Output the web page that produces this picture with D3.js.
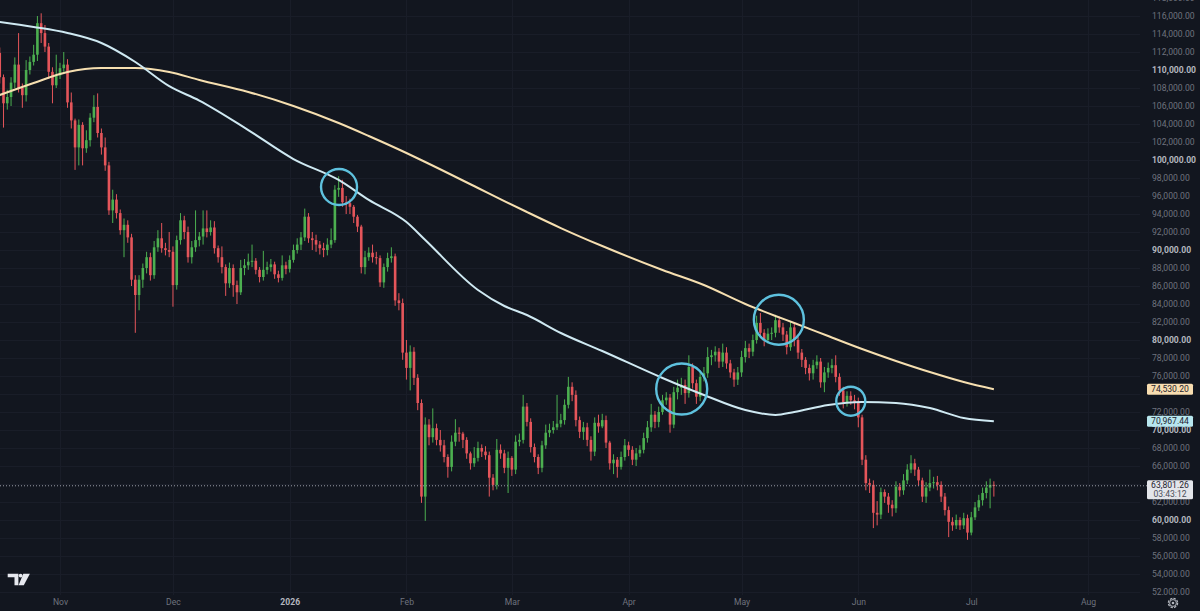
<!DOCTYPE html>
<html>
<head>
<meta charset="utf-8">
<script src="https://cdn.jsdelivr.net/npm/d3@7/dist/d3.min.js"></script>
<style>
  html, body { margin: 0; padding: 0; background: #12161f; }
  svg { display: block; }
</style>
</head>
<body>
<svg id="chart" width="1200" height="611"></svg>
<script>
// Daily candles, prices in thousands of USD. First candle is 16 Oct 2025.
// Open of each candle = close of the one before.
var firstDay = Date.UTC(2025, 9, 16);
var firstOpen = 111.9;

var closes = [
  109.2,106.3,107.0,108.6,110.6,108.0,107.2,110.0,110.9,111.7,
  115.2,114.1,112.6,109.8,108.3,109.4,110.2,110.6,106.4,104.4,
  101.4,103.9,101.3,102.2,104.7,105.9,103.0,101.4,99.4,94.4,
  95.6,94.1,92.2,92.8,91.4,86.7,85.0,86.7,88.0,89.2,
  87.2,90.3,91.3,90.2,90.0,89.8,86.1,91.1,93.3,92.0,
  89.2,90.3,91.1,91.5,92.4,92.0,92.5,90.2,89.2,88.1,
  86.3,88.0,86.1,85.3,88.0,88.3,88.7,88.8,87.8,87.0,
  87.8,88.1,88.4,87.3,86.9,88.3,87.9,88.9,90.0,90.6,
  91.4,93.7,91.3,91.1,90.6,90.2,90.0,90.6,91.1,96.7,
  96.9,95.3,95.2,94.8,93.7,92.6,88.1,89.2,89.7,89.2,
  89.1,86.4,88.1,89.1,89.3,84.4,84.1,78.6,76.9,78.7,
  75.8,73.0,62.6,70.6,69.2,70.2,68.9,68.3,67.0,65.9,
  68.7,69.7,69.6,68.9,67.4,66.3,66.9,68.0,67.6,67.2,
  64.7,63.9,67.8,67.4,65.8,66.9,65.6,68.7,68.9,72.6,
  70.9,68.1,67.0,65.8,68.3,69.7,70.0,70.3,70.7,71.1,
  72.8,74.8,73.9,71.1,69.8,70.3,68.9,67.6,70.8,70.4,
  71.1,68.6,66.3,66.7,65.9,67.0,68.3,67.8,66.7,67.4,
  67.8,69.1,70.3,71.7,70.9,72.0,73.3,73.6,70.6,74.2,
  74.7,75.0,74.1,77.0,75.2,73.7,75.9,76.3,78.1,78.3,
  78.7,77.6,78.6,77.4,76.4,75.6,76.4,78.1,79.1,78.7,
  80.0,81.9,80.8,80.0,80.7,80.8,82.2,81.4,80.6,79.2,
  81.4,80.0,78.6,77.8,76.9,76.3,77.2,77.6,75.3,76.4,
  76.9,77.2,75.9,74.4,73.1,73.8,73.3,73.1,71.4,66.7,
  64.1,63.9,60.8,60.6,63.1,62.6,61.7,61.3,63.7,63.3,
  64.4,65.6,66.3,65.6,64.4,62.6,63.6,64.1,64.2,63.9,
  62.6,61.1,59.8,59.4,60.0,59.4,60.2,58.6,60.3,61.4,
  62.2,63.0,63.6,63.9,63.80126
];

var highs = [
  112.5,109.5,107.8,109.2,111.4,114.1,108.5,111.1,111.5,112.8,
  116.0,116.3,115.0,113.0,110.3,111.7,110.8,112.0,111.2,107.5,
  104.6,104.5,104.2,103.3,105.2,107.2,107.4,103.5,102.5,99.8,
  96.7,96.2,94.5,93.5,93.3,91.8,87.2,87.2,88.5,89.8,
  89.7,91.0,92.2,93.0,90.8,92.0,90.4,91.6,94.1,93.8,
  92.6,91.0,94.4,92.0,94.4,94.4,93.3,93.2,90.5,90.4,
  88.4,88.6,88.4,86.6,88.9,89.0,89.6,90.6,89.1,88.1,
  89.9,88.7,89.0,88.7,87.7,89.4,88.7,89.4,90.6,91.3,
  92.0,94.6,94.1,92.0,91.7,91.0,90.8,91.3,92.4,97.2,
  98.2,97.8,96.0,95.7,95.0,93.9,92.8,89.9,90.3,90.6,
  89.8,89.4,88.5,89.7,90.3,89.6,85.2,84.6,80.0,79.4,
  79.2,76.2,73.4,71.4,71.2,72.4,70.7,70.0,68.9,67.3,
  69.4,71.2,70.3,69.8,69.2,67.6,68.1,68.7,68.4,68.2,
  67.6,65.1,69.0,68.4,67.8,67.6,67.1,69.4,69.6,73.9,
  73.0,71.3,68.5,67.3,68.8,70.6,70.7,71.0,73.9,71.8,
  73.4,75.9,75.3,74.4,71.5,70.9,70.8,69.3,71.4,71.7,
  71.8,71.6,68.8,67.3,67.0,67.6,69.0,68.7,68.2,68.0,
  68.3,69.7,71.0,72.9,72.1,72.6,73.9,74.2,74.0,74.8,
  75.6,75.8,75.6,78.3,77.4,75.6,76.6,77.0,79.2,78.9,
  79.3,79.1,79.6,79.2,77.8,76.8,77.0,78.8,79.9,79.6,
  80.6,82.7,83.0,81.2,81.3,81.4,82.8,82.6,81.9,81.0,
  82.0,81.8,80.4,79.0,78.1,77.3,77.8,78.3,78.0,77.0,
  77.5,77.9,78.3,76.3,74.8,74.3,74.3,73.9,73.6,71.7,
  67.2,64.6,64.4,62.1,63.6,63.4,63.0,62.2,64.3,64.1,
  65.1,66.2,67.2,66.8,65.9,64.7,64.2,65.6,64.8,64.9,
  64.3,63.0,61.5,60.3,60.6,60.3,60.8,60.6,60.9,62.0,
  62.8,63.6,64.3,64.6,64.3
];

var lows = [
  108.5,103.6,105.6,106.0,108.0,107.5,105.8,106.5,109.5,110.5,
  111.0,113.0,112.0,109.0,106.3,108.0,109.0,109.8,105.8,103.5,
  98.9,99.4,99.4,100.8,101.5,104.2,102.5,100.6,98.8,93.9,
  93.0,93.5,91.7,89.2,90.8,86.0,80.8,83.3,85.8,87.4,
  86.6,86.8,89.8,89.7,89.4,89.2,83.7,85.6,90.6,91.2,
  88.6,88.5,89.8,90.4,90.6,91.4,91.6,89.6,88.6,87.4,
  84.9,85.8,84.8,84.0,85.0,87.2,87.8,88.1,87.3,86.4,
  86.6,87.3,87.6,86.8,86.4,86.6,87.3,87.5,88.6,89.6,
  90.0,91.0,90.8,90.0,89.8,89.5,89.2,89.4,90.2,90.8,
  95.9,94.8,94.0,94.0,93.0,92.0,87.4,87.3,88.8,88.6,
  88.4,85.9,85.8,87.6,88.6,83.8,83.3,77.8,75.6,74.4,
  75.0,72.2,61.9,59.9,68.3,68.6,68.3,67.6,66.4,64.7,
  65.4,68.2,68.7,68.0,66.8,65.6,65.9,66.5,67.0,66.7,
  62.6,63.3,63.4,66.8,65.2,63.0,64.9,65.1,68.2,68.5,
  70.4,67.5,66.4,65.1,65.3,67.9,69.2,69.6,70.0,70.3,
  70.6,72.4,73.2,70.4,69.1,68.9,68.2,66.6,67.1,69.7,
  70.2,68.0,65.6,65.1,64.7,65.6,66.6,67.1,66.1,66.0,
  67.0,67.4,68.6,69.8,70.2,70.3,71.7,72.8,69.7,70.2,
  73.4,73.9,72.9,73.6,74.6,72.9,73.2,75.4,75.8,77.2,
  77.6,76.9,77.0,76.8,75.8,74.8,75.0,75.9,77.5,78.0,
  78.2,79.6,80.2,79.3,79.6,80.0,80.3,80.8,79.9,78.4,
  78.8,79.3,77.9,77.0,76.2,75.5,75.6,76.8,74.7,74.2,
  75.8,76.3,75.3,73.8,72.4,72.6,72.8,72.3,70.3,66.1,
  63.3,63.0,59.1,59.4,60.1,61.9,60.8,60.4,60.8,62.6,
  62.8,64.0,65.2,64.9,63.8,62.0,61.9,63.2,63.5,63.3,
  62.0,60.5,58.1,58.8,59.0,58.9,59.0,57.8,58.3,60.0,
  61.0,61.6,62.4,61.3,62.6
];

// moving averages, sampled at these candle indexes (thousands)
var maDays = [0,9,18,27,36,45,53,66,78,90,98,108,113,127,134,140,149,160,176,187,198,206,211,220,229,238,247,256,264];
var maBlue = [115.33,114.78,114.11,113.0,110.89,108.2,106.6,103.33,100.11,97.78,95.56,93.11,91.11,85.56,83.78,82.78,80.78,78.78,75.78,73.89,72.22,71.67,72.0,72.78,73.11,73.0,72.44,71.33,70.96744];
var maCream = [107.22,108.56,109.78,110.22,110.22,109.78,108.89,107.56,106.0,104.11,102.67,100.78,99.78,96.89,95.44,94.22,92.44,90.44,87.78,86.11,84.0,82.67,81.89,80.44,79.0,77.67,76.44,75.33,74.5302];

// highlighted touches: candle index, price (thousands), radius
var ringDays = [90.1, 181.1, 206.9, 226.0];
var ringPrices = [97.0, 74.55, 82.25, 73.2];
var ringSizes = [18, 25.5, 25, 14.5];

var monthDates = [[2025,10],[2025,11],[2026,0],[2026,1],[2026,2],[2026,3],[2026,4],[2026,5],[2026,6],[2026,7]];
var monthLabels = ["Nov","Dec","2026","Feb","Mar","Apr","May","Jun","Jul","Aug"];
var priceTicks = d3.range(52000, 118001, 2000);
var countdown = "03:43:12";

// %%%%%%%%%%%%%%%%%%%%
// % Setup            %
// %%%%%%%%%%%%%%%%%%%%
var svg = d3.select("#chart"),
    width = +svg.attr("width"),
    height = +svg.attr("height");
var plotBottom = 595, plotRight = 1140;
var upColor = "#4caf50", downColor = "#e4555a";
var font = "Roboto, 'Liberation Sans', sans-serif";

var x = d3.scaleUtc()
    .domain([Date.UTC(2025, 10, 1), Date.UTC(2026, 7, 1)])
    .range([60, 1088]);
var y = d3.scaleLinear()
    .domain([52000, 116000])
    .range([592, 16]);

var dayDate = function (i) { return new Date(firstDay + i * 864e5); };

var candles = closes.map(function (c, i) {
    var o = i === 0 ? firstOpen : closes[i - 1];
    return {
        date: dayDate(i),
        open: o * 1000,
        close: c * 1000,
        high: Math.max(highs[i], o, c) * 1000,
        low: Math.min(lows[i], o, c) * 1000
    };
});
var last = candles[candles.length - 1];

svg.append("rect").attr("width", width).attr("height", height).attr("fill", "#12161f");

svg.append("defs").append("clipPath").attr("id", "plotClip")
    .append("rect").attr("width", plotRight).attr("height", plotBottom);
svg.select("defs").append("clipPath").attr("id", "axisClip")
    .append("rect").attr("x", plotRight).attr("width", width - plotRight).attr("height", plotBottom);

// grid
var grid = svg.append("g").attr("clip-path", "url(#plotClip)");
grid.selectAll("line.h").data(priceTicks).enter().append("line")
    .attr("x1", 0).attr("x2", plotRight)
    .attr("y1", function (d) { return Math.round(y(d)) + 0.5; })
    .attr("y2", function (d) { return Math.round(y(d)) + 0.5; })
    .attr("stroke", "#191d28");
grid.selectAll("line.v").data(monthDates).enter().append("line")
    .attr("x1", function (d) { return Math.round(x(Date.UTC(d[0], d[1], 1))) + 0.5; })
    .attr("x2", function (d) { return Math.round(x(Date.UTC(d[0], d[1], 1))) + 0.5; })
    .attr("y1", 0).attr("y2", plotBottom)
    .attr("stroke", "#191d28");

// %%%%%%%%%%%%%%%%%%%%
// % Candles          %
// %%%%%%%%%%%%%%%%%%%%
var bodyW = 2.6;
var candleG = svg.append("g").attr("clip-path", "url(#plotClip)")
    .selectAll("g").data(candles).enter().append("g");
candleG.append("line")
    .attr("x1", function (d) { return x(d.date); })
    .attr("x2", function (d) { return x(d.date); })
    .attr("y1", function (d) { return y(d.high); })
    .attr("y2", function (d) { return y(d.low); })
    .attr("stroke", function (d) { return d.close >= d.open ? upColor : downColor; })
    .attr("stroke-width", 1);
candleG.append("rect")
    .attr("x", function (d) { return x(d.date) - bodyW / 2; })
    .attr("width", bodyW)
    .attr("y", function (d) { return y(Math.max(d.open, d.close)); })
    .attr("height", function (d) { return Math.max(1, Math.abs(y(d.open) - y(d.close))); })
    .attr("fill", function (d) { return d.close >= d.open ? upColor : downColor; });

// %%%%%%%%%%%%%%%%%%%%
// % Moving averages  %
// %%%%%%%%%%%%%%%%%%%%
var maLine = function (vals) {
    return d3.line()
        .x(function (d, k) { return x(dayDate(maDays[k])); })
        .y(function (d) { return y(d * 1000); })
        .curve(d3.curveMonotoneX)(vals);
};
svg.append("path").attr("d", maLine(maCream))
    .attr("fill", "none").attr("stroke", "#f6dfb0").attr("stroke-width", 2);
svg.append("path").attr("d", maLine(maBlue))
    .attr("fill", "none").attr("stroke", "#cfe9f2").attr("stroke-width", 2);

// rings
svg.append("g").selectAll("circle").data(ringDays).enter().append("circle")
    .attr("cx", function (d) { return x(dayDate(d)); })
    .attr("cy", function (d, k) { return y(ringPrices[k] * 1000); })
    .attr("r", function (d, k) { return ringSizes[k]; })
    .attr("fill", "none")
    .attr("stroke", "#5ec1de")
    .attr("stroke-width", 2.4);

// last price dotted line
svg.append("line")
    .attr("x1", 0).attr("x2", 1147)
    .attr("y1", y(last.close)).attr("y2", y(last.close))
    .attr("stroke", "#9a9da6").attr("stroke-width", 1)
    .attr("stroke-dasharray", "1,2");

// %%%%%%%%%%%%%%%%%%%%
// % Axes             %
// %%%%%%%%%%%%%%%%%%%%
var tagValues = [maCream[maCream.length - 1] * 1000, maBlue[maBlue.length - 1] * 1000, last.close];
var tagHeights = [11, 11, 19];
// a scale label whose centre sits under a price tag is not drawn
var underTag = function (d) {
    var ly = y(d);
    return tagValues.some(function (v, k) {
        var top = y(v) - 5.5;
        return ly > top - 1.5 && ly < top + tagHeights[k] + 1.5;
    });
};

var yAxis = svg.append("g")
    .attr("clip-path", "url(#axisClip)")
    .append("g")
    .attr("transform", "translate(1152,0)")
    .call(d3.axisRight(y).tickValues(priceTicks.filter(function (d) { return !underTag(d); }))
        .tickSize(0).tickPadding(0)
        .tickFormat(d3.format(",.2f")));
yAxis.select(".domain").remove();
yAxis.selectAll("text")
    .attr("font-family", font)
    .attr("font-size", "8.6px")
    .attr("font-weight", function (d) { return d % 10000 === 0 ? "bold" : "normal"; })
    .attr("fill", function (d) { return d % 10000 === 0 ? "#b4b7bf" : "#6f737e"; });

var xAxis = svg.append("g")
    .attr("transform", "translate(0," + (plotBottom + 4) + ")")
    .call(d3.axisBottom(x)
        .tickValues(monthDates.map(function (d) { return new Date(Date.UTC(d[0], d[1], 1)); }))
        .tickSize(0).tickPadding(0)
        .tickFormat(function (d, k) { return monthLabels[k]; }));
xAxis.select(".domain").remove();
xAxis.selectAll("text")
    .attr("font-family", font)
    .attr("font-size", "8.6px")
    .attr("font-weight", function (d, k) { return monthLabels[k] === "2026" ? "bold" : "normal"; })
    .attr("fill", function (d, k) { return monthLabels[k] === "2026" ? "#b4b7bf" : "#6f737e"; });

// price tags on the right scale
var tag = function (value, bg, lines) {
    var h = lines.length > 1 ? 19 : 11;
    var cy = y(value);
    var g = svg.append("g").attr("transform", "translate(1147," + (cy - 5.5) + ")");
    g.append("rect").attr("width", 46).attr("height", h).attr("rx", 1.5).attr("fill", bg);
    lines.forEach(function (t, k) {
        g.append("text")
            .attr("x", 23).attr("y", 5.8 + k * 9)
            .attr("text-anchor", "middle")
            .attr("dominant-baseline", "middle")
            .attr("font-family", font)
            .attr("font-size", "8.6px")
            .attr("fill", k === 0 ? "#1f232e" : "#4a4e58")
            .text(t);
    });
};
var fmt = d3.format(",.2f");
tag(tagValues[0], "#f8ddb0", [fmt(tagValues[0])]);
tag(tagValues[1], "#b7e6ee", [fmt(tagValues[1])]);
tag(tagValues[2], "#e3e5ea", [fmt(tagValues[2]), countdown]);

// settings gear
var gear = svg.append("g").attr("transform", "translate(1173,603)");
gear.append("circle").attr("r", 4.6).attr("fill", "none")
    .attr("stroke", "#b4b7bf").attr("stroke-width", 1.3).attr("stroke-dasharray", "2.4,1.2");
gear.append("circle").attr("r", 3.4).attr("fill", "none")
    .attr("stroke", "#b4b7bf").attr("stroke-width", 1);
gear.append("circle").attr("r", 1.3).attr("fill", "#b4b7bf");

// tradingview mark
var logo = svg.append("g").attr("fill", "#e6e8ee");
logo.append("path").attr("d", "M7.7,573.8H18.4V585.2H14.5V577.3H7.7Z");
logo.append("circle").attr("cx", 20.6).attr("cy", 575.6).attr("r", 1.9);
logo.append("path").attr("d", "M23.3,573.8H29.9L23.8,585.2H18.6Z");
</script>
</body>
</html>
